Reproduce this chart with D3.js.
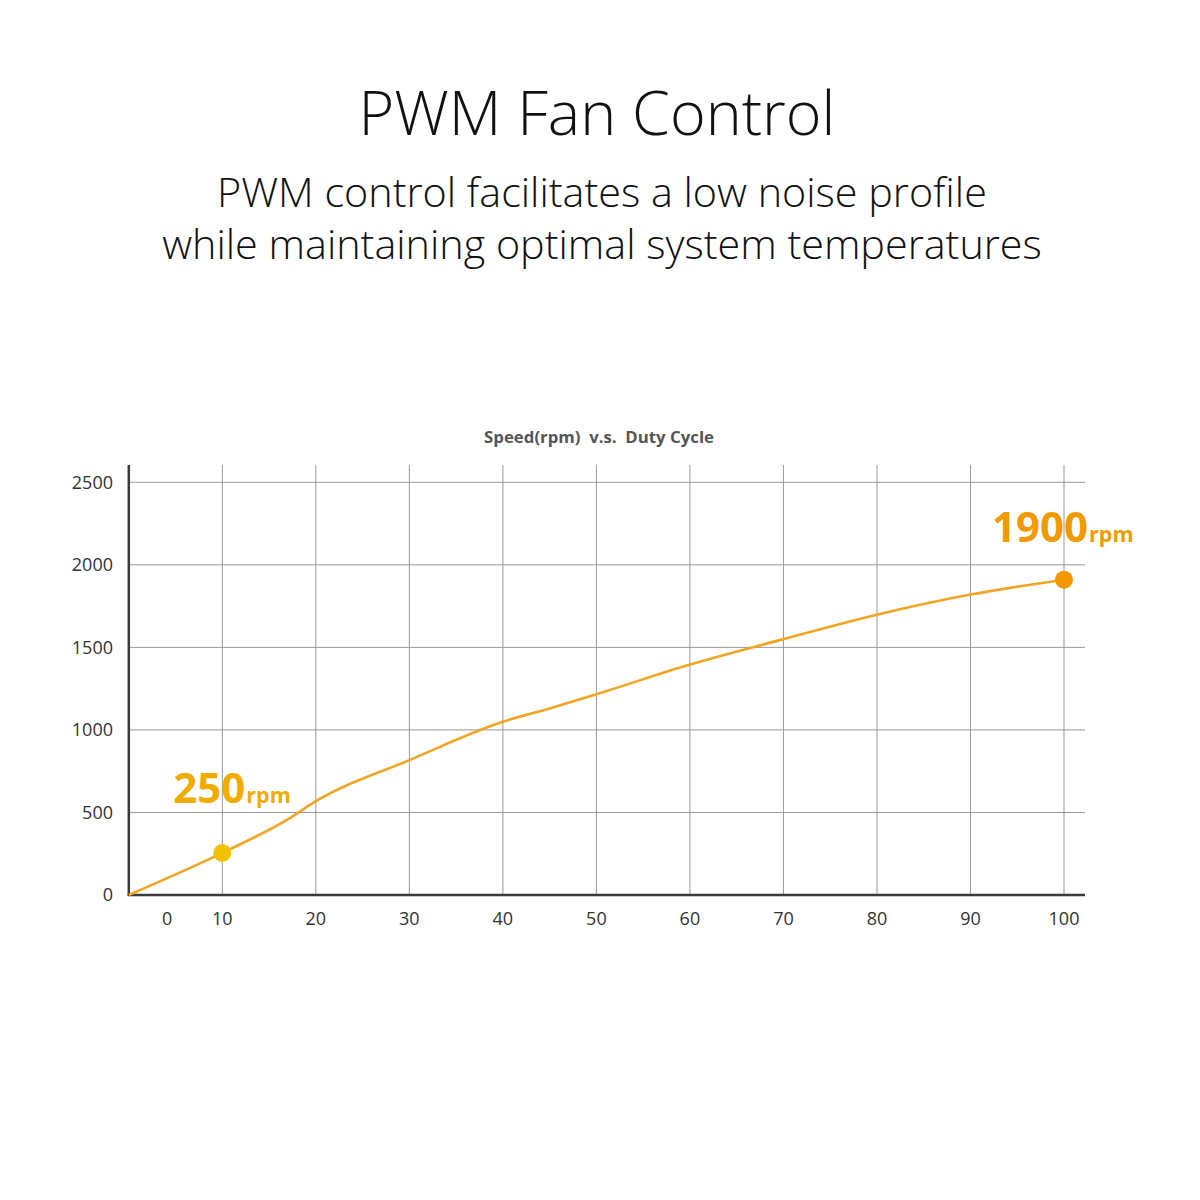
<!DOCTYPE html>
<html>
<head>
<meta charset="utf-8">
<script src="https://cdn.jsdelivr.net/npm/d3@7"></script>
<style>
  html, body { margin: 0; padding: 0; background: #fff; }
  svg { display: block; }
</style>
</head>
<body>
<svg id="chart" width="1200" height="1200"></svg>
<script>
// duty cycle (%) vs fan speed (rpm)
var dutyCycle = [0, 10, 17, 20, 30, 40, 45, 50, 60, 70, 80, 90, 100];
var speedRpm = [0, 255, 458, 568, 817, 1049, 1130, 1216, 1396, 1550, 1698, 1820, 1910];

var xTicks = [10, 20, 30, 40, 50, 60, 70, 80, 90, 100];
var xTickLabels = ['0', '10', '20', '30', '40', '50', '60', '70', '80', '90', '100'];
var yTicks = [0, 500, 1000, 1500, 2000, 2500];

var highlights = [
  {duty: 10, rpm: 255, label: '250', dot: '#f2c200', text: '#f0ac00'},
  {duty: 100, rpm: 1910, label: '1900', dot: '#f39800', text: '#f09a00'}
];

var svg = d3.select('#chart');
var font = "'Open Sans', 'Noto Sans', sans-serif";

var x = d3.scaleLinear().domain([0, 100]).range([128.8, 1064]);
var y = d3.scaleLinear().domain([0, 2500]).range([895, 482.3]);

// headings
svg.append('text')
  .attr('x', 597).attr('y', 135)
  .attr('text-anchor', 'middle')
  .attr('font-family', font).attr('font-weight', 300)
  .attr('font-size', 61).attr('fill', '#111')
  .text('PWM Fan Control');

var sub = ['PWM control facilitates a low noise profile', 'while maintaining optimal system temperatures'];
svg.selectAll('text.sub').data(sub).enter().append('text')
  .attr('class', 'sub')
  .attr('x', 602).attr('y', function (d, i) { return 207 + i * 52; })
  .attr('text-anchor', 'middle')
  .attr('font-family', font).attr('font-weight', 300)
  .attr('font-size', 41.3).attr('fill', '#111')
  .text(function (d) { return d; });

svg.append('text')
  .attr('x', 599).attr('y', 443)
  .attr('text-anchor', 'middle')
  .attr('font-family', font).attr('font-weight', 700)
  .attr('font-size', 16.8).attr('fill', '#555')
  .attr('xml:space', 'preserve')
  .text('Speed(rpm)  v.s.  Duty Cycle');

// grid
var grid = svg.append('g').attr('stroke', '#999').attr('stroke-width', 1);
grid.selectAll('line.h').data(yTicks.slice(1)).enter().append('line')
  .attr('x1', x(0)).attr('x2', 1085)
  .attr('y1', function (d) { return y(d); }).attr('y2', function (d) { return y(d); });
grid.selectAll('line.v').data(xTicks).enter().append('line')
  .attr('y1', 465).attr('y2', y(0))
  .attr('x1', function (d) { return x(d); }).attr('x2', function (d) { return x(d); });

// axes lines
svg.append('line')
  .attr('x1', x(0)).attr('x2', x(0)).attr('y1', 465).attr('y2', y(0) + 1)
  .attr('stroke', '#3a3a3a').attr('stroke-width', 2.5);
svg.append('line')
  .attr('x1', x(0) - 1).attr('x2', 1085).attr('y1', y(0)).attr('y2', y(0))
  .attr('stroke', '#3a3a3a').attr('stroke-width', 2.5);

// tick labels
svg.selectAll('text.ylab').data(yTicks).enter().append('text')
  .attr('class', 'ylab')
  .attr('x', 113).attr('y', function (d) { return y(d); })
  .attr('dy', '0.36em')
  .attr('text-anchor', 'end')
  .attr('font-family', font).attr('font-size', 18).attr('fill', '#333')
  .text(function (d) { return d; });

svg.selectAll('text.xlab').data(xTickLabels).enter().append('text')
  .attr('class', 'xlab')
  .attr('x', function (d, i) {
    // the "0" label sits a bit right of the axis in the original
    return i === 0 ? x(0) + (x(10) - x(0)) * 0.41 : x(+d);
  })
  .attr('y', 925)
  .attr('text-anchor', 'middle')
  .attr('font-family', font).attr('font-size', 18).attr('fill', '#333')
  .text(function (d) { return d; });

// curve
var pts = dutyCycle.map(function (d, i) { return [d, speedRpm[i]]; });
var line = d3.line()
  .x(function (d) { return x(d[0]); })
  .y(function (d) { return y(d[1]); })
  .curve(d3.curveMonotoneX);
svg.append('path')
  .attr('d', line(pts))
  .attr('fill', 'none')
  .attr('stroke', '#f2a423')
  .attr('stroke-width', 2.6);

// highlighted points
svg.selectAll('circle.hl').data(highlights).enter().append('circle')
  .attr('cx', function (d) { return x(d.duty); })
  .attr('cy', function (d) { return y(d.rpm); })
  .attr('r', 9)
  .attr('fill', function (d) { return d.dot; });

var lab = svg.selectAll('text.hl').data(highlights).enter().append('text')
  .attr('class', 'hl')
  .attr('x', function (d) { return x(d.duty) - (d.duty === 10 ? 49 : 72); })
  .attr('y', function (d) { return y(d.rpm) - (d.duty === 10 ? 50 : 38); })
  .attr('font-family', font).attr('font-weight', 700)
  .attr('fill', function (d) { return d.text; });
lab.append('tspan').attr('font-size', 42).text(function (d) { return d.label; });
lab.append('tspan').attr('font-size', 21.5).attr('dx', 1).text('rpm');
</script>
</body>
</html>
